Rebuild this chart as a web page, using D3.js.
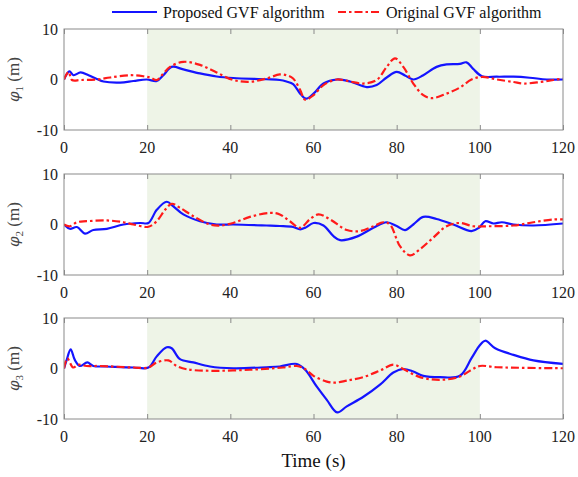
<!DOCTYPE html>
<html lang="en">
<head>
<meta charset="utf-8">
<script src="https://cdn.jsdelivr.net/npm/d3@7/dist/d3.min.js"></script>
<style type="text/css">
body {
	margin: 0;
	background-color: #ffffff;
}
svg text { font-family: "Liberation Serif", "Times New Roman", serif; }
.tick-label { font-size: 16px; fill: #222; }
</style>
</head>
<body>
<script type="text/javascript">

// time (s) and tracking error values
var t1Prop = [0,1.3,2.3,4,5.9,7.9,9.5,13.5,16.7,19.9,22.3,23.9,25.9,28.7,32.7,36.7,40.7,48.7,51.9,53.5,55.1,56.8,58.2,60,62.4,65.6,68.8,72.8,75.2,77.6,80,82,84,86.4,89.6,92,95.2,96.8,98.4,100.5,104.1,108.1,112,116.1,120];
var y1Prop = [0,1.6,0.85,1.4,0.85,0.1,-0.4,-0.6,-0.3,0,-0.3,0.85,2.5,2.0,1.2,0.6,0.3,0.05,-0.1,-0.4,-0.9,-2.8,-3.8,-2.8,-0.8,0,-0.4,-1.5,-1.1,0.4,1.5,0.8,0,0.85,2.5,3.0,3.1,3.4,2.1,0.65,0.55,0.55,0.35,0,0];
var t1Orig = [0,1.1,1.9,4,7.9,11.1,15.9,19.1,20.7,22.3,23.9,25.5,28.7,32.7,36.7,40.7,44.7,48.7,51.9,53.5,55.1,56.8,58,60,62.4,65.6,68.8,72,75.2,77.6,79.6,81.6,84,86.4,88.4,92,95.2,98,100.5,104.1,108.1,110.5,114.5,117.7,120];
var y1Orig = [0,1.5,-0.1,-0.1,0,0.4,0.85,0.65,0.4,-0.1,1.2,2.5,3.5,2.9,1.4,-0.1,-0.45,0.2,1.0,0.85,0.2,-2.1,-4.0,-3.1,-1.1,0,-0.4,-0.8,-0.1,2.5,4.2,2.5,-0.8,-3.1,-3.7,-2.8,-1.6,0,0.5,0,-0.5,-0.8,-0.5,-0.1,0.2];

var t2Prop = [0,1.4,3.1,5.05,7.05,10.3,14.3,18.3,20.3,22.3,24.7,26.3,28.7,32.7,36.7,40.7,48.7,51.9,55.1,56.8,58,60,62.4,64.8,66.4,70.4,74.4,77.6,80,82,84,86.4,89.6,93.6,98,99.8,101.3,103.3,105.3,108.1,112.9,120];
var y2Prop = [0,-0.85,-0.5,-1.8,-1.1,-0.85,0,0.3,0.3,2.9,4.5,3.6,2.0,0.65,0,0,-0.2,-0.3,-0.5,-0.95,-0.65,0.3,-0.2,-2.3,-3.1,-2.4,-0.65,0.45,-0.3,-1.1,0,1.5,1.1,0,-1.3,-0.65,0.65,0.2,0.45,0,-0.2,0.2];
var t2Orig = [0,1.4,3.1,5.4,10.3,14.3,16.7,20.3,22.3,24.3,25.9,27.9,31.1,35.1,37.5,40.7,44.7,49.5,51.9,54.3,56.8,59.2,61.2,64,68,71.2,74.4,76.8,78.4,80.8,83.2,85.6,88.8,92,95.2,98.4,101.7,108.1,112.9,117.7,120];
var y2Orig = [0,-0.35,0.45,0.65,0.8,0.45,0,-0.45,0.65,2.9,4.1,3.3,1.65,0,-0.2,0.3,1.5,2.3,2.0,0.65,-0.65,1.1,2.0,1.0,-1.1,-1.3,-0.35,0.45,0,-4.3,-6.1,-4.9,-2.6,-0.35,0.3,-0.35,-0.35,-0.2,0.45,1.0,1.0];

var t3Prop = [0,0.65,1.6,2.6,3.8,5.6,7.05,10.3,16.7,20.3,22.3,24.7,25.9,27.9,31.1,35.1,40.7,48.7,51.9,56,58,60.8,63.2,65.7,68,72,76,79.2,81.6,84,86.4,90.4,95.2,98,100,101.3,103.7,108.1,112.9,120];
var y3Prop = [0,1.7,3.8,1.7,0.5,1.2,0.5,0.4,0.2,0.2,2.4,4.2,4.0,1.85,1.2,0.4,0.05,0.25,0.4,0.9,-0.25,-3.6,-6.2,-8.7,-7.5,-5.6,-3.2,-0.8,-0.1,-0.6,-1.45,-1.7,-1.45,2.05,4.6,5.5,4.0,2.7,1.6,0.9];
var t3Orig = [0,0.8,2.2,3.4,5.4,8.6,16.7,20.3,22.3,25.1,27.1,29.5,35.1,44.7,52.7,56,57.7,60,63.2,65.2,68,72,76,79.2,81.6,85.6,90.4,95.2,98,100,104.1,120];
var y3Orig = [0,2.0,0.2,0.75,0.5,0.5,0.2,0.2,1.2,1.6,0.5,-0.15,-0.45,-0.25,0.2,0.5,0.05,-1.45,-2.6,-2.8,-2.4,-1.7,-0.4,0.75,-0.1,-1.7,-2.25,-1.6,-0.25,0.5,0.25,0.05];

var xTicks = [0, 20, 40, 60, 80, 100, 120];
var yTicks = [-10, 0, 10];
var shadeSpan = [20, 100];
var panelIndex = ["1", "2", "3"];
var seriesNames = ["Proposed GVF algorithm", "Original GVF algorithm"];

var panels = [
	{ prop: [t1Prop, y1Prop], orig: [t1Orig, y1Orig], top: 29 },
	{ prop: [t2Prop, y2Prop], orig: [t2Orig, y2Orig], top: 174 },
	{ prop: [t3Prop, y3Prop], orig: [t3Orig, y3Orig], top: 318 }
];

var width = 578, height = 477;
var left = 64, right = 563, panelH = 101;
var blue = "#1414ff", red = "#ff1a1a";

var svg = d3.select("body").append("svg")
	.attr("width", width)
	.attr("height", height);

var x = d3.scaleLinear().domain([0, 120]).range([left, right]);

function toPoints(pair) {
	return pair[0].map(function(t, i) { return [t, pair[1][i]]; });
}

panels.forEach(function(p, k) {
	var y = d3.scaleLinear().domain([-10, 10]).range([p.top + panelH, p.top]);
	var g = svg.append("g");

	// shaded window
	g.append("rect")
		.attr("x", x(shadeSpan[0]))
		.attr("y", p.top)
		.attr("width", x(shadeSpan[1]) - x(shadeSpan[0]))
		.attr("height", panelH)
		.style("fill", "#eef4e7");

	var clipId = "clip" + k;
	g.append("clipPath").attr("id", clipId)
		.append("rect")
		.attr("x", left).attr("y", p.top)
		.attr("width", right - left).attr("height", panelH);

	var line = d3.line()
		.x(function(d) { return x(d[0]); })
		.y(function(d) { return y(d[1]); })
		.curve(d3.curveCatmullRom.alpha(0.5));

	g.append("path")
		.attr("clip-path", "url(#" + clipId + ")")
		.attr("d", line(toPoints(p.prop)))
		.style("fill", "none")
		.style("stroke", blue)
		.style("stroke-width", 2.2);

	g.append("path")
		.attr("clip-path", "url(#" + clipId + ")")
		.attr("d", line(toPoints(p.orig)))
		.style("fill", "none")
		.style("stroke", red)
		.style("stroke-width", 2.2)
		.style("stroke-dasharray", "8,3,2.5,3");

	// frame
	g.append("rect")
		.attr("x", left).attr("y", p.top)
		.attr("width", right - left).attr("height", panelH)
		.style("fill", "none")
		.style("stroke", "#8a8a8a")
		.style("stroke-width", 1);

	// inward x ticks top and bottom
	var bottomAxis = d3.axisBottom(x).tickValues(xTicks).tickSize(-5).tickFormat("");
	var topAxis = d3.axisTop(x).tickValues(xTicks).tickSize(-5).tickFormat("");
	[["b", bottomAxis, p.top + panelH], ["t", topAxis, p.top]].forEach(function(a) {
		var ax = g.append("g").attr("transform", "translate(0," + a[2] + ")").call(a[1]);
		ax.select(".domain").remove();
		ax.selectAll("line").style("stroke", "#8a8a8a");
	});

	g.selectAll(".xl")
		.data(xTicks)
		.enter().append("text")
		.attr("class", "tick-label")
		.attr("x", function(d) { return x(d); })
		.attr("y", p.top + panelH + 23)
		.attr("text-anchor", "middle")
		.text(function(d) { return d; });

	g.selectAll(".yl")
		.data(yTicks)
		.enter().append("text")
		.attr("class", "tick-label")
		.attr("x", left - 6)
		.attr("y", function(d) { return y(d) + 5.5; })
		.attr("text-anchor", "end")
		.text(function(d) { return d; });

	// y label
	var lab = g.append("text")
		.attr("transform", "translate(19," + (p.top + panelH / 2) + ") rotate(-90)")
		.attr("text-anchor", "middle")
		.style("font-size", "17px")
		.style("fill", "#444");
	lab.append("tspan").style("font-style", "italic")
		.style("font-family", "'DejaVu Serif', serif").style("font-size", "15px").text("\u03c6");
	lab.append("tspan").attr("dy", 4).style("font-size", "11px").text(panelIndex[k]);
	lab.append("tspan").attr("dy", -4).text(" (m)");
});

// x axis title
svg.append("text")
	.attr("x", (left + right) / 2)
	.attr("y", 467)
	.attr("text-anchor", "middle")
	.style("font-size", "19px")
	.style("fill", "#111")
	.text("Time (s)");

// legend
var legendItems = [
	{ name: seriesNames[0], color: blue, dash: null, x1: 112, x2: 157 },
	{ name: seriesNames[1], color: red, dash: "8,3,2.5,3", x1: 338, x2: 380 }
];
legendItems.forEach(function(d) {
	svg.append("line")
		.attr("x1", d.x1).attr("x2", d.x2)
		.attr("y1", 12).attr("y2", 12)
		.style("stroke", d.color)
		.style("stroke-width", 2.2)
		.style("stroke-dasharray", d.dash);
	svg.append("text")
		.attr("x", d.x2 + 6)
		.attr("y", 17.5)
		.style("font-size", "16px")
		.style("fill", "#111")
		.text(d.name);
});

</script>
</body>
</html>
